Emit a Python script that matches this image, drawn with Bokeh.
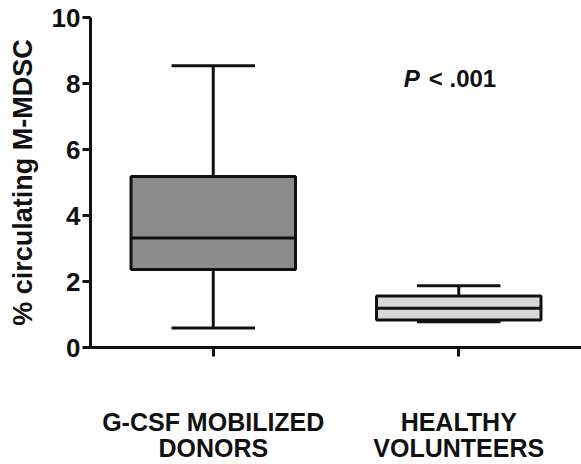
from bokeh.plotting import figure
from bokeh.models import Range1d, FixedTicker, Label, LinearAxis
from bokeh.embed import file_html
from bokeh.resources import INLINE

categories = ["G-CSF MOBILIZED\nDONORS", "HEALTHY\nVOLUNTEERS"]
positions = [1, 2]
lower = [0.59, 0.78]
q1 = [2.36, 0.83]
median = [3.32, 1.19]
q3 = [5.18, 1.56]
upper = [8.54, 1.87]
fills = ["#8c8c8c", "#d9d9d9"]
y_ticks = [0, 2, 4, 6, 8, 10]

FONT = "Liberation Sans"
INK = "#111111"

p = figure(width=581, height=464, output_backend="svg", toolbar_location=None,
           x_range=Range1d(0.5, 2.5), y_range=Range1d(0, 10))
p.min_border_left = 90
p.min_border_right = 0
p.min_border_top = 17
p.min_border_bottom = 0
p.outline_line_color = None
p.xgrid.visible = False
p.ygrid.visible = False
p.background_fill_color = "white"
p.border_fill_color = "white"

bw = 0.67
cw = 0.34
p.segment(x0=positions, y0=q3, x1=positions, y1=upper, line_color=INK, line_width=3)
p.segment(x0=positions, y0=lower, x1=positions, y1=q1, line_color=INK, line_width=3)
p.segment(x0=[x - cw / 2 for x in positions], y0=upper,
          x1=[x + cw / 2 for x in positions], y1=upper, line_color=INK, line_width=3)
p.segment(x0=[x - cw / 2 for x in positions], y0=lower,
          x1=[x + cw / 2 for x in positions], y1=lower, line_color=INK, line_width=3)
p.vbar(x=positions, width=bw, bottom=q1, top=q3, fill_color=fills,
       line_color=INK, line_width=3)
p.segment(x0=[x - bw / 2 for x in positions], y0=median,
          x1=[x + bw / 2 for x in positions], y1=median, line_color=INK, line_width=3)

# y axis
p.yaxis.ticker = FixedTicker(ticks=y_ticks)
p.yaxis.minor_tick_line_color = None
p.yaxis.major_tick_out = 8
p.yaxis.major_tick_in = 0
p.yaxis.axis_line_width = 3
p.yaxis.major_tick_line_width = 3
p.yaxis.axis_line_color = INK
p.yaxis.major_tick_line_color = INK
p.yaxis.major_label_text_font = FONT
p.yaxis.major_label_text_font_size = "26px"
p.yaxis.major_label_text_font_style = "bold"
p.yaxis.major_label_text_color = INK
p.yaxis.major_label_standoff = 2
p.yaxis.axis_label = "% circulating M-MDSC"
p.yaxis.axis_label_text_font = FONT
p.yaxis.axis_label_text_font_size = "27px"
p.yaxis.axis_label_text_font_style = "bold"
p.yaxis.axis_label_text_color = INK
p.yaxis.axis_label_standoff = 11

first_lines = {pos: cat.split("\n")[0] for pos, cat in zip(positions, categories)}
second_lines = {pos: cat.split("\n")[1] for pos, cat in zip(positions, categories)}

# x axis (first line of category labels)
xa = p.xaxis[0]
xa.ticker = FixedTicker(ticks=positions)
xa.major_label_overrides = first_lines
xa.major_label_text_font = FONT
xa.major_label_text_font_size = "25px"
xa.major_label_text_font_style = "bold"
xa.major_label_text_color = INK
xa.major_label_standoff = 51
xa.minor_tick_line_color = None
xa.major_tick_out = 9
xa.major_tick_in = 0
xa.axis_line_width = 3
xa.major_tick_line_width = 3
xa.axis_line_color = INK
xa.major_tick_line_color = INK

# second line of category labels
xb = LinearAxis(ticker=FixedTicker(ticks=positions), major_label_overrides=second_lines)
xb.major_label_text_font = FONT
xb.major_label_text_font_size = "25px"
xb.major_label_text_font_style = "bold"
xb.major_label_text_color = INK
xb.major_label_standoff = -5
xb.axis_line_color = None
xb.major_tick_line_color = None
xb.minor_tick_line_color = None
xb.major_tick_out = 0
xb.major_tick_in = 0
p.add_layout(xb, "below")

p.add_layout(Label(x=1.776, y=8.14, text="P", text_font=FONT, text_font_size="24px",
                   text_font_style="bold italic", text_color=INK, text_baseline="alphabetic"))
p.add_layout(Label(x=1.878, y=8.14, text="< .001", text_font=FONT, text_font_size="24px",
                   text_font_style="bold", text_color=INK, text_baseline="alphabetic"))

open("out.html", "w").write(file_html(p, INLINE))
